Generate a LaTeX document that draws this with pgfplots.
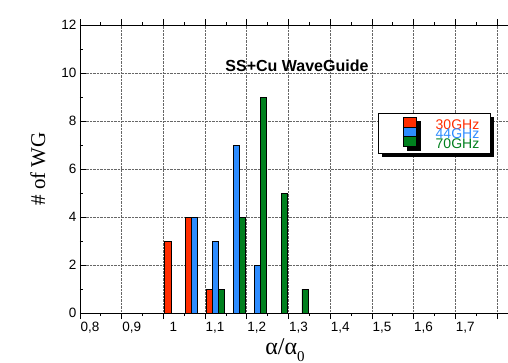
\documentclass[border=0pt]{standalone}
\usepackage{pgfplots}
\pgfplotsset{compat=1.18}
\usepackage{fontspec}
\setmainfont{Liberation Sans}
\newfontfamily\seriffont{Liberation Serif}
\usetikzlibrary{shadows}
\definecolor{cred}{RGB}{255,45,0}
\definecolor{cblue}{RGB}{45,140,255}
\definecolor{cgreen}{RGB}{0,128,30}
\begin{document}
\begin{tikzpicture}
\begin{axis}[
  scale only axis,
  width=458.7pt, height=288pt,
  xmin=0.8, xmax=1.9, ymin=0, ymax=12,
  xtick={0.8,0.9,1,1.1,1.2,1.3,1.4,1.5,1.6,1.7,1.8},
  xticklabels={{0,8},{0,9},1,{1,1},{1,2},{1,3},{1,4},{1,5},{1,6},{1,7},{}},
  ytick={0,2,...,12},
  minor x tick num=1, minor y tick num=1,
  tick align=inside,
  major tick length=6pt, minor tick length=3pt,
  tick style={black, line width=0.8pt},
  grid=major,
  major grid style={densely dotted, black!60, line width=0.7pt},
  axis line style={line width=0.8pt},
  /pgf/number format/assume math mode=true,
  tick label style={font=\fontsize{13.5}{14}\selectfont},
  xticklabel style={xshift=10pt},
  ylabel={\seriffont\fontsize{21}{22}\selectfont \# of WG},
  ylabel style={at={(axis description cs:0,0.5)}, anchor=south, yshift=31pt},
  xlabel={\seriffont\fontsize{24}{24}\selectfont α/α\raisebox{-7pt}{\fontsize{15}{15}\selectfont 0}},
  xlabel style={at={(axis description cs:0.447,0)}, anchor=north, yshift=-22pt},
  ybar, bar width=0.0145, bar shift=0pt,
  legend style={at={(rel axis cs:0.649,0.695)}, anchor=north west,
    draw=black, line width=0.8pt, fill=white,
    drop shadow={shadow xshift=4pt, shadow yshift=-4pt, fill=black, opacity=1},
    inner xsep=0pt, inner ysep=4pt,
    font=\fontsize{14}{14}\selectfont,
    nodes={inner xsep=0pt, inner ysep=0pt, text height=8.5pt, text depth=1pt},
    row sep=-3.5pt, column sep=0pt},
  legend cell align=left,
  legend image code/.code={\path (0pt,0pt) (57pt,0pt); \draw[#1, draw=black, line width=0.6pt] (25pt,-2pt) rectangle (38pt,8pt);},
]
\coordinate (O) at (rel axis cs:0,0);
\addplot[fill=cred, draw=black, line width=0.6pt] coordinates {(1.0105,3) (1.0605,4) (1.1105,1)};
\addlegendentry{\textcolor{cred}{30GHz}\hspace*{11pt}}
\addplot[fill=cblue, draw=black, line width=0.6pt] coordinates {(1.075,4) (1.125,3) (1.175,7) (1.225,2)};
\addlegendentry{\textcolor{cblue}{44GHz}\hspace*{11pt}}
\addplot[fill=cgreen, draw=black, line width=0.6pt] coordinates {(1.1395,1) (1.1895,4) (1.2395,9) (1.2895,5) (1.3395,1)};
\addlegendentry{\textcolor{cgreen}{70GHz}\hspace*{11pt}}
\node[font=\bfseries\fontsize{16}{16}\selectfont] at (rel axis cs:0.473,0.86) {SS+Cu WaveGuide};
\end{axis}
\pgfresetboundingbox
\path ([shift={(-80pt,-49pt)}]O) rectangle ([shift={(428pt,313pt)}]O);
\end{tikzpicture}
\end{document}
